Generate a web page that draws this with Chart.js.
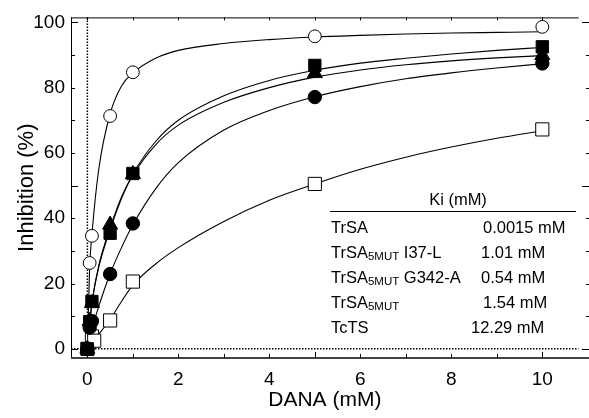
<!DOCTYPE html>
<html><head><meta charset="utf-8">
<script src="https://cdn.jsdelivr.net/npm/chart.js@4.4.1/dist/chart.umd.min.js"></script>
<style>html,body{margin:0;padding:0;background:#fff}#wrap{width:589px;height:418px;position:relative}</style>
</head><body><div id="wrap"><canvas id="c" width="589" height="418"></canvas></div>
<script>
// ---- data ----
const xTickLabels = [0, 2, 4, 6, 8, 10];
const yTickLabels = [0, 20, 40, 60, 80, 100];
const xTitle = 'DANA (mM)';
const yTitle = 'Inhibition (%)';

// measured points
const pointX = [0, 0.05, 0.1, 0.5, 1, 5, 10];
const trsaY = [0, 26.3, 34.6, 71.3, 84.7, 95.7, 98.6];
const i37lY = [0, 8.3, 14.5, 35.4, 53.7, 86.8, 92.5];
const g342aY = [0, 8.5, 14, 38, 53.5, 84.4, 89.9];
const mut5Y = [0, 6.5, 8.5, 22.9, 38.4, 77.1, 87.4];
const tctsX = [0, 0.1, 0.15, 0.5, 1, 5, 10];
const tctsY = [0, 3.8, 2.5, 8.7, 20.6, 50.5, 67.2];

// fitted curves
const curveX = [0, 0.05, 0.1, 0.25, 0.5, 0.75, 1, 1.5, 2, 3, 4, 5, 6, 7, 8, 9, 10];
const trsaCurve  = [0, 25, 35, 55, 72, 80.5, 84.5, 89, 91.4, 93.5, 94.7, 95.5, 96, 96.4, 96.7, 96.9, 97.1];
const i37lCurve  = [0, 7.5, 14, 25, 36.5, 46, 53.5, 63.5, 70, 77.5, 82.2, 85.3, 87.5, 89, 90.3, 91.4, 92.3];
const g342aCurve = [0, 7.5, 14, 25.5, 37, 46.5, 53.2, 62.5, 68.5, 75.5, 80, 83.2, 85.4, 87, 88.2, 89.1, 89.8];
const mut5Curve  = [0, 3, 6, 13, 23, 31, 38, 49, 57, 67, 73, 77.2, 80.3, 82.7, 84.5, 86, 87.3];
const tctsCurve  = [0, 1.2, 2, 4.5, 9, 14.5, 19.5, 26, 31, 39, 45.5, 50.5, 55, 58.7, 61.8, 64.5, 66.8];

// Ki table
const kiHeader = 'Ki (mM)';
const kiNames = ['TrSA', 'TrSA', 'TrSA', 'TrSA', 'TcTS'];
const kiSubs = ['', '5MUT', '5MUT', '5MUT', ''];
const kiSuffix = ['', ' I37-L', ' G342-A', '', ''];
const kiValues = ['0.0015 mM', '1.01 mM', '0.54 mM', '1.54 mM', '12.29 mM'];

// ---- build ----
const FONT = "'Liberation Sans', Arial, sans-serif";
const pts = (xs, ys) => xs.map((x, i) => ({x, y: ys[i]}));

function curve(ys) {
  return {type: 'scatter', data: pts(curveX, ys), showLine: true, pointRadius: 0,
    borderColor: '#000', borderWidth: 1.1, cubicInterpolationMode: 'monotone', order: 10, clip: false};
}
function marks(xs, ys, style, r, fill, ord) {
  return {type: 'scatter', data: pts(xs, ys), showLine: false, pointStyle: style, pointRadius: r,
    pointHoverRadius: r, backgroundColor: fill, borderColor: '#000', pointBorderWidth: 1, order: ord, clip: false};
}

const datasets = [
  {type: 'scatter', data: [{x: 0, y: -2.8}, {x: 0, y: 101.5}], showLine: true, pointRadius: 0,
    borderColor: '#000', borderWidth: 1.5, borderDash: [1.5, 1.5], order: 20},
  {type: 'scatter', data: [{x: -0.36, y: 0}, {x: 10.8, y: 0}], showLine: true, pointRadius: 0,
    borderColor: '#000', borderWidth: 1.5, borderDash: [1.5, 1.5], order: 20},
  curve(trsaCurve), curve(i37lCurve), curve(g342aCurve), curve(mut5Curve), curve(tctsCurve),
  marks(tctsX, tctsY, 'rect', 9.3, '#fff', 8),
  marks(pointX, trsaY, 'circle', 6.4, '#fff', 7),
  marks(pointX, mut5Y, 'circle', 6.7, '#000', 4),
  marks(pointX, g342aY, 'triangle', 8.7, '#000', 3),
  marks(pointX, i37lY, 'rect', 8.7, '#000', 2),
];

const decor = {
  id: 'decor',
  afterDraw(chart) {
    const {ctx, chartArea: a, scales: {x, y}} = chart;
    const line = (x1, y1, x2, y2) => { ctx.beginPath(); ctx.moveTo(x1, y1); ctx.lineTo(x2, y2); ctx.stroke(); };
    ctx.save();
    ctx.strokeStyle = '#000'; ctx.lineWidth = 1;
    // left axis + top border
    line(a.left + 0.5, a.top, a.left + 0.5, a.bottom);
    line(a.left, a.top + 0.5, a.right, a.top + 0.5);
    // left/right y ticks
    for (let v = 0; v <= 100; v += 10) {
      const py = Math.round(y.getPixelForValue(v)) + 0.5;
      const major = v % 50 === 0;
      line(a.left, py, a.left + (major ? 7 : 4), py);
      line(589, py, 589 - (major ? 7 : 3), py);
    }
    // top ticks
    for (let v = 0; v <= 10; v += 1) {
      const px = Math.round(x.getPixelForValue(v)) + 0.5;
      line(px, a.top, px, a.top + 3);
    }
    // bottom axis
    ctx.strokeStyle = '#444'; ctx.lineWidth = 2;
    line(a.left, a.bottom, 589, a.bottom);
    ctx.lineWidth = 1; ctx.strokeStyle = '#000';
    for (let v = 0; v <= 10; v += 1) {
      const px = Math.round(x.getPixelForValue(v)) + 0.5;
      line(px, a.bottom, px, a.bottom - (v % 5 === 0 ? 6 : 4));
    }
    // axis titles
    ctx.fillStyle = '#000';
    ctx.font = '21px ' + FONT;
    ctx.textAlign = 'center'; ctx.textBaseline = 'middle';
    ctx.fillText(xTitle, (a.left + a.right) / 2, 400);
    ctx.save();
    ctx.translate(27, (a.top + a.bottom) / 2);
    ctx.rotate(-Math.PI / 2);
    ctx.font = '22px ' + FONT;
    ctx.fillText(yTitle, 0, 0);
    ctx.restore();
    // Ki table
    ctx.font = '16.5px ' + FONT;
    ctx.textAlign = 'center';
    ctx.fillText(kiHeader, 458, 200);
    line(330, 211.5, 576, 211.5);
    ctx.textAlign = 'left';
    const rowY = [228, 253, 278, 303, 328];
    const valX = [483, 481, 481, 483, 471];
    kiNames.forEach((n, i) => {
      let cx = 331;
      ctx.font = '16.5px ' + FONT;
      ctx.fillText(n, cx, rowY[i]);
      cx += ctx.measureText(n).width;
      if (kiSubs[i]) {
        ctx.font = '11.5px ' + FONT;
        ctx.fillText(kiSubs[i], cx, rowY[i] + 4);
        cx += ctx.measureText(kiSubs[i]).width;
      }
      ctx.font = '16.5px ' + FONT;
      if (kiSuffix[i]) ctx.fillText(kiSuffix[i], cx, rowY[i]);
      ctx.fillText(kiValues[i], valX[i], rowY[i]);
    });
    ctx.restore();
  }
};

new Chart(document.getElementById('c'), {
  type: 'scatter',
  data: {datasets},
  options: {
    responsive: false, animation: false,
    layout: {padding: {top: 17, right: 6, left: 0, bottom: 0}},
    plugins: {legend: {display: false}, tooltip: {enabled: false}},
    scales: {
      x: {type: 'linear', min: -0.36, max: 10.8,
        afterBuildTicks: s => { s.ticks = xTickLabels.map(v => ({value: v})); },
        afterFit: s => { s.height = 60; },
        grid: {display: false, drawTicks: false}, border: {display: false},
        ticks: {padding: 10, color: '#000', font: {family: FONT, size: 19}}},
      y: {type: 'linear', min: -2.8, max: 101.5,
        afterBuildTicks: s => { s.ticks = yTickLabels.map(v => ({value: v})); },
        afterFit: s => { s.width = 71; },
        grid: {display: false, drawTicks: false}, border: {display: false},
        ticks: {padding: 6, color: '#000', font: {family: FONT, size: 19}}}
    }
  },
  plugins: [decor]
});
</script></body></html>
